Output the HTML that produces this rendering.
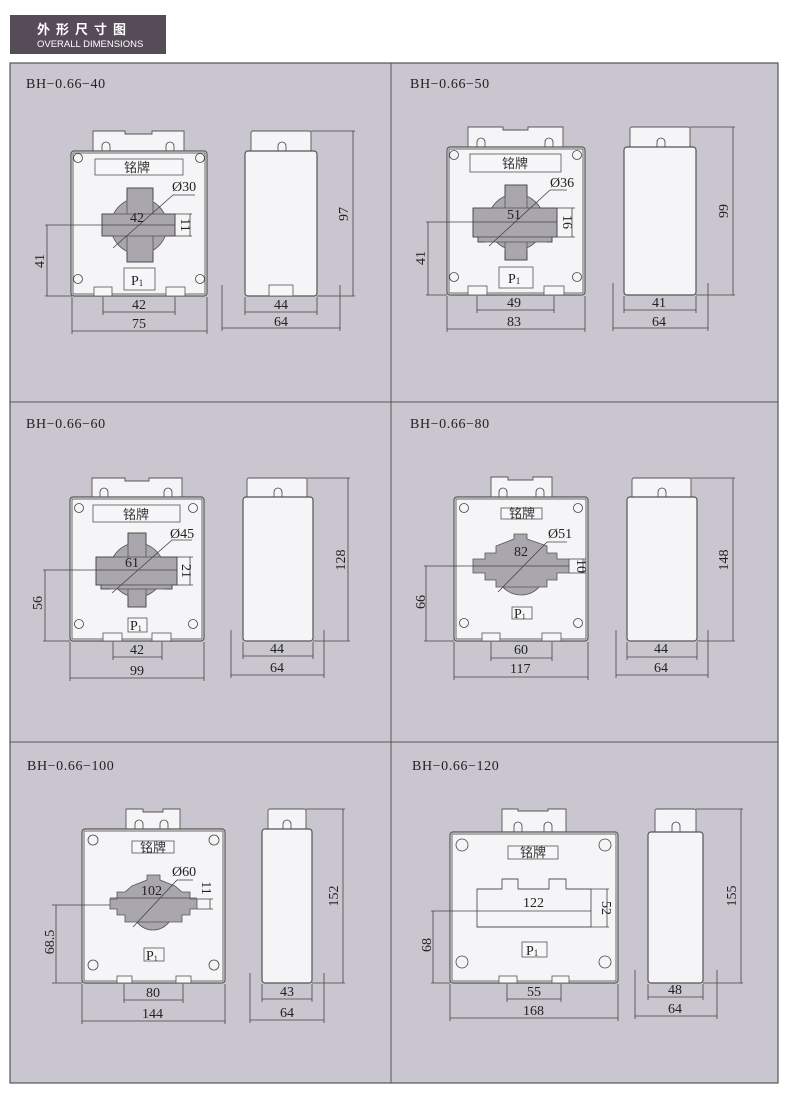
<!DOCTYPE html>
<html><head><meta charset="utf-8"><style>
body{margin:0;background:#fff;}
svg{display:block}
.t{font-family:"Liberation Serif","Noto Serif CJK SC",serif;font-size:14px;fill:#222}
.h{font-family:"Liberation Serif",serif;font-size:14px;fill:#222;letter-spacing:0.6px}
.c{font-family:"Liberation Sans","Noto Sans CJK SC",sans-serif;font-size:13px;fill:#333}
.b{fill:#f5f4f6;stroke:#555;stroke-width:1.2}
.w{fill:#a9a6ae;stroke:#555;stroke-width:0.8}
.l{stroke:#444;stroke-width:0.8;fill:none}
.p{fill:#f7f6f8;stroke:#555;stroke-width:0.8}
.o{fill:#f5f4f6;stroke:#555;stroke-width:0.9}
</style></head><body>
<svg width="790" height="1095" viewBox="0 0 790 1095" xmlns="http://www.w3.org/2000/svg">
<rect x="0" y="0" width="790" height="1095" fill="#fff"/>
<rect x="10" y="15" width="156" height="39" fill="#574b5a"/>
<text x="37" y="34" font-family="Liberation Sans,Noto Sans CJK SC,sans-serif" font-size="13" font-weight="bold" fill="#fff" letter-spacing="6">外形尺寸图</text>
<text x="37" y="47" font-family="Liberation Sans,sans-serif" font-size="9.5" fill="#fff">OVERALL DIMENSIONS</text>
<rect x="10" y="63" width="768" height="1020" fill="#c9c6cf" stroke="#555" stroke-width="1.2"/>
<line x1="391" y1="63" x2="391" y2="1083" stroke="#555" stroke-width="1"/>
<line x1="10" y1="402" x2="778" y2="402" stroke="#555" stroke-width="1"/>
<line x1="10" y1="742" x2="778" y2="742" stroke="#555" stroke-width="1"/>

<text class="h" x="26" y="88">BH−0.66−40</text>
<text class="h" x="410" y="88">BH−0.66−50</text>
<text class="h" x="26" y="428">BH−0.66−60</text>
<text class="h" x="410" y="428">BH−0.66−80</text>
<text class="h" x="27" y="770">BH−0.66−100</text>
<text class="h" x="412" y="770">BH−0.66−120</text>

<!-- ===== Cell 1 ===== -->
<polygon class="o" points="93,151 93,131 125,131 125,134 152,134 152,131 184,131 184,151"/>
<path class="l" d="M102,151V146a4,4 0 0 1 8,0V151 M166,151V146a4,4 0 0 1 8,0V151"/>
<rect class="b" x="71" y="151" width="136" height="145" rx="3"/>
<rect class="l" x="73" y="153" width="132" height="141"/>
<rect class="p" x="95" y="159" width="88" height="16"/>
<text class="c" x="124" y="172">铭牌</text>
<circle class="l" cx="78" cy="158" r="4.5"/><circle class="l" cx="200" cy="158" r="4.5"/>
<circle class="l" cx="78" cy="279" r="4.5"/><circle class="l" cx="200" cy="279" r="4.5"/>
<circle class="w" cx="139" cy="226" r="28"/>
<rect class="w" x="127" y="188" width="26" height="74" stroke="none"/>
<rect class="w" x="102" y="214" width="73" height="22" stroke="none"/>
<path class="l" d="M127,200V188H153V200 M127,252V262H153V252 M113,214H102V236H113 M165,214H175V236H165"/>
<rect class="p" x="124" y="268" width="31" height="22"/>
<text class="t" x="131" y="285">P<tspan font-size="9" dy="1">1</tspan></text>
<rect class="p" x="94" y="287" width="18" height="9"/><rect class="p" x="166" y="287" width="19" height="9"/>
<path class="l" d="M45,225H175 M47,225V296 M45,296H72 M113,248L173,195H195 M175,214H192 M175,236H192 M190,214V236"/>
<text class="t" x="130" y="222">42</text>
<text class="t" x="172" y="191">Ø30</text>
<text class="t" transform="translate(181,225) rotate(90)" text-anchor="middle">11</text>
<text class="t" transform="translate(44,261) rotate(-90)" text-anchor="middle">41</text>
<path class="l" d="M103,297V315 M175,297V315 M103,312H175 M72,297V334 M207,297V334 M72,331H207"/>
<text class="t" x="132" y="309">42</text><text class="t" x="132" y="328">75</text>
<rect class="o" x="251" y="131" width="60" height="22" rx="2"/>
<path class="l" d="M278,151V146a4,4 0 0 1 8,0V151"/>
<rect class="b" x="245" y="151" width="72" height="145" rx="3"/>
<rect class="p" x="269" y="285" width="24" height="11"/>
<path class="l" d="M311,131H355 M317,296H355 M353,131V296 M245,297V315 M317,297V315 M245,312H317 M222,285V331 M340,285V331 M222,328H340"/>
<text class="t" transform="translate(348,214) rotate(-90)" text-anchor="middle">97</text>
<text class="t" x="274" y="309">44</text><text class="t" x="274" y="326">64</text>

<!-- ===== Cell 2 ===== -->
<polygon class="o" points="468,147 468,127 503,127 503,130 528,130 528,127 563,127 563,147"/>
<path class="l" d="M477,147V142a4,4 0 0 1 8,0V147 M545,147V142a4,4 0 0 1 8,0V147"/>
<rect class="b" x="447" y="147" width="138" height="148" rx="3"/>
<rect class="l" x="449" y="149" width="134" height="144"/>
<rect class="p" x="470" y="154" width="91" height="18"/>
<text class="c" x="502" y="168">铭牌</text>
<circle class="l" cx="454" cy="155" r="4.5"/><circle class="l" cx="577" cy="155" r="4.5"/>
<circle class="l" cx="454" cy="277" r="4.5"/><circle class="l" cx="577" cy="277" r="4.5"/>
<circle class="w" cx="516" cy="222" r="28"/>
<rect class="w" x="505" y="185" width="22" height="75" stroke="none"/>
<rect class="w" x="473" y="208" width="84" height="29" stroke="none"/>
<rect class="w" x="478" y="237" width="74" height="5" stroke="none"/>
<path class="l" d="M505,196V185H527V196 M505,249V260H527V249 M493,208H473V237H478V242H485 M539,208H557V237H552V242H547"/>
<rect class="p" x="499" y="267" width="34" height="21"/>
<text class="t" x="508" y="283">P<tspan font-size="9" dy="1">1</tspan></text>
<rect class="p" x="468" y="286" width="19" height="9"/><rect class="p" x="544" y="286" width="20" height="9"/>
<path class="l" d="M426,222H557 M428,222V295 M426,295H447 M489,246L550,190H567 M557,208H575 M557,237H575 M572,208V237"/>
<text class="t" x="507" y="219">51</text>
<text class="t" x="550" y="187">Ø36</text>
<text class="t" transform="translate(563,222) rotate(90)" text-anchor="middle">16</text>
<text class="t" transform="translate(425,258) rotate(-90)" text-anchor="middle">41</text>
<path class="l" d="M477,296V313 M554,296V313 M477,310H554 M447,296V332 M585,296V332 M447,329H585"/>
<text class="t" x="507" y="307">49</text><text class="t" x="507" y="326">83</text>
<rect class="o" x="630" y="127" width="60" height="22" rx="2"/>
<path class="l" d="M657,147V142a4,4 0 0 1 8,0V147"/>
<rect class="b" x="624" y="147" width="72" height="148" rx="3"/>
<path class="l" d="M690,127H735 M696,295H735 M733,127V295 M624,296V313 M696,296V313 M624,310H696 M613,283V331 M708,283V331 M613,328H708"/>
<text class="t" transform="translate(728,211) rotate(-90)" text-anchor="middle">99</text>
<text class="t" x="652" y="307">41</text><text class="t" x="652" y="326">64</text>

<!-- ===== Cell 3 ===== -->
<polygon class="o" points="92,497 92,478 125,478 125,481 149,481 149,478 182,478 182,497"/>
<path class="l" d="M100,497V492a4,4 0 0 1 8,0V497 M164,497V492a4,4 0 0 1 8,0V497"/>
<rect class="b" x="70" y="497" width="134" height="144" rx="3"/>
<rect class="l" x="72" y="499" width="130" height="140"/>
<rect class="p" x="93" y="505" width="87" height="17"/>
<text class="c" x="123" y="519">铭牌</text>
<circle class="l" cx="79" cy="508" r="4.5"/><circle class="l" cx="193" cy="508" r="4.5"/>
<circle class="l" cx="79" cy="624" r="4.5"/><circle class="l" cx="193" cy="624" r="4.5"/>
<circle class="w" cx="137" cy="570" r="27"/>
<rect class="w" x="128" y="533" width="18" height="74" stroke="none"/>
<rect class="w" x="96" y="557" width="81" height="28" stroke="none"/>
<rect class="w" x="101" y="585" width="71" height="4" stroke="none"/>
<path class="l" d="M128,545V533H146V545 M128,596V607H146V596 M115,557H96V585H101V589H110 M160,557H177V585H172V589H164"/>
<rect class="p" x="128" y="618" width="19" height="14"/>
<text class="t" x="130" y="630" font-size="13">P<tspan font-size="8" dy="1">1</tspan></text>
<rect class="p" x="103" y="633" width="19" height="8"/><rect class="p" x="152" y="633" width="19" height="8"/>
<path class="l" d="M43,570H177 M45,570V641 M43,641H70 M112,593L172,540H192 M177,557H193 M177,585H193 M190,557V585"/>
<text class="t" x="125" y="567">61</text>
<text class="t" x="170" y="538">Ø45</text>
<text class="t" transform="translate(182,571) rotate(90)" text-anchor="middle">21</text>
<text class="t" transform="translate(42,603) rotate(-90)" text-anchor="middle">56</text>
<path class="l" d="M113,642V660 M162,642V660 M113,657H162 M70,642V681 M204,642V681 M70,678H204"/>
<text class="t" x="130" y="654">42</text><text class="t" x="130" y="675">99</text>
<rect class="o" x="247" y="478" width="60" height="21" rx="2"/>
<path class="l" d="M274,497V492a4,4 0 0 1 8,0V497"/>
<rect class="b" x="243" y="497" width="70" height="144" rx="3"/>
<path class="l" d="M307,478H350 M313,641H350 M348,478V641 M243,642V659 M313,642V659 M243,656H313 M231,630V678 M324,630V678 M231,675H324"/>
<text class="t" transform="translate(345,560) rotate(-90)" text-anchor="middle">128</text>
<text class="t" x="270" y="653">44</text><text class="t" x="270" y="672">64</text>

<!-- ===== Cell 4 ===== -->
<polygon class="o" points="491,497 491,477 508,477 508,480 533,480 533,477 552,477 552,497"/>
<path class="l" d="M499,497V492a4,4 0 0 1 8,0V497 M536,497V492a4,4 0 0 1 8,0V497"/>
<rect class="b" x="454" y="497" width="134" height="144" rx="3"/>
<rect class="l" x="456" y="499" width="130" height="140"/>
<rect class="p" x="501" y="508" width="41" height="11"/>
<text class="c" x="509" y="518" font-size="11">铭牌</text>
<circle class="l" cx="464" cy="508" r="4.5"/><circle class="l" cx="578" cy="508" r="4.5"/>
<circle class="l" cx="464" cy="623" r="4.5"/><circle class="l" cx="578" cy="623" r="4.5"/>
<ellipse class="w" cx="521" cy="567" rx="26" ry="28"/>
<polygon class="w" points="514,539 514,534 527,534 527,539 547,546 547,553 557,553 557,559 569,559 569,573 557,573 557,580 547,580 547,587 496,587 496,580 485,580 485,573 473,573 473,559 485,559 485,553 496,553 496,546"/>
<rect class="p" x="512" y="607" width="20" height="12"/>
<text class="t" x="514" y="618" font-size="12">P<tspan font-size="8" dy="1">1</tspan></text>
<rect class="p" x="482" y="633" width="18" height="8"/><rect class="p" x="542" y="633" width="19" height="8"/>
<path class="l" d="M424,566H569 M426,566V641 M424,641H454 M498,592L547,542H567 M569,559H586 M569,573H586 M583,559V573"/>
<text class="t" x="514" y="556">82</text>
<text class="t" x="548" y="538">Ø51</text>
<text class="t" transform="translate(577,566) rotate(90)" text-anchor="middle" font-size="12">10</text>
<text class="t" transform="translate(425,602) rotate(-90)" text-anchor="middle">66</text>
<path class="l" d="M491,642V661 M552,642V661 M491,658H552 M454,642V680 M588,642V680 M454,677H588"/>
<text class="t" x="514" y="654">60</text><text class="t" x="510" y="673">117</text>
<rect class="o" x="632" y="478" width="59" height="21" rx="2"/>
<path class="l" d="M658,497V492a4,4 0 0 1 8,0V497"/>
<rect class="b" x="627" y="497" width="70" height="144" rx="3"/>
<path class="l" d="M691,478H735 M697,641H735 M733,478V641 M627,642V660 M697,642V660 M627,657H697 M616,630V678 M708,630V678 M616,675H708"/>
<text class="t" transform="translate(728,560) rotate(-90)" text-anchor="middle">148</text>
<text class="t" x="654" y="653">44</text><text class="t" x="654" y="672">64</text>

<!-- ===== Cell 5 ===== -->
<polygon class="o" points="126,829 126,809 143,809 143,812 163,812 163,809 180,809 180,829"/>
<path class="l" d="M135,829V824a4,4 0 0 1 8,0V829 M160,829V824a4,4 0 0 1 8,0V829"/>
<rect class="b" x="82" y="829" width="143" height="154" rx="3"/>
<rect class="l" x="84" y="831" width="139" height="150"/>
<rect class="p" x="132" y="841" width="42" height="12"/>
<text class="c" x="140" y="852" font-size="12">铭牌</text>
<circle class="l" cx="93" cy="840" r="5"/><circle class="l" cx="214" cy="840" r="5"/>
<circle class="l" cx="93" cy="965" r="5"/><circle class="l" cx="214" cy="965" r="5"/>
<ellipse class="w" cx="153" cy="905" rx="22" ry="25"/>
<polygon class="w" points="147,880 147,875 160,875 160,880 175,886 182,892 190,892 190,899 197,899 197,909 190,909 190,915 182,915 182,922 125,922 125,915 117,915 117,909 110,909 110,899 117,899 117,892 125,892 132,886"/>
<rect class="p" x="144" y="948" width="20" height="13"/>
<text class="t" x="146" y="960" font-size="12">P<tspan font-size="8" dy="1">1</tspan></text>
<rect class="p" x="117" y="976" width="15" height="7"/><rect class="p" x="176" y="976" width="15" height="7"/>
<path class="l" d="M110,898H197 M52,905H110 M56,905V983 M52,983H82 M133,927L177,880H193 M197,899H213 M197,909H213 M210,899V909"/>
<text class="t" x="141" y="895">102</text>
<text class="t" x="172" y="876">Ø60</text>
<text class="t" transform="translate(202,888) rotate(90)" text-anchor="middle" font-size="12">11</text>
<text class="t" transform="translate(54,942) rotate(-90)" text-anchor="middle">68.5</text>
<path class="l" d="M124,984V1003 M183,984V1003 M124,1000H183 M82,984V1024 M225,984V1024 M82,1021H225"/>
<text class="t" x="146" y="997">80</text><text class="t" x="142" y="1018">144</text>
<rect class="o" x="268" y="809" width="38" height="22" rx="2"/>
<path class="l" d="M283,829V824a4,4 0 0 1 8,0V829"/>
<rect class="b" x="262" y="829" width="50" height="154" rx="3"/>
<path class="l" d="M306,809H345 M312,983H345 M343,809V983 M262,984V1002 M312,984V1002 M262,999H312 M250,973V1023 M324,973V1023 M250,1020H324"/>
<text class="t" transform="translate(338,896) rotate(-90)" text-anchor="middle">152</text>
<text class="t" x="280" y="996">43</text><text class="t" x="280" y="1017">64</text>

<!-- ===== Cell 6 ===== -->
<polygon class="o" points="502,832 502,809 518,809 518,811 548,811 548,809 566,809 566,832"/>
<path class="l" d="M514,832V826a4,4 0 0 1 8,0V832 M544,832V826a4,4 0 0 1 8,0V832"/>
<rect class="b" x="450" y="832" width="168" height="151" rx="3"/>
<rect class="l" x="452" y="834" width="164" height="147"/>
<rect class="p" x="508" y="846" width="50" height="13"/>
<text class="c" x="520" y="857">铭牌</text>
<circle class="l" cx="462" cy="845" r="6"/><circle class="l" cx="605" cy="845" r="6"/>
<circle class="l" cx="462" cy="962" r="6"/><circle class="l" cx="605" cy="962" r="6"/>
<path class="o" d="M477,927V889H502V879H518V889H549V879H566V889H591V927Z"/>
<rect class="p" x="522" y="942" width="25" height="15"/>
<text class="t" x="526" y="955">P<tspan font-size="9" dy="1">1</tspan></text>
<rect class="p" x="499" y="976" width="18" height="7"/><rect class="p" x="552" y="976" width="17" height="7"/>
<path class="l" d="M431,911H591 M433,911V983 M431,983H450 M591,889H609 M591,927H609 M607,889V927"/>
<text class="t" x="523" y="907">122</text>
<text class="t" transform="translate(602,908) rotate(90)" text-anchor="middle">52</text>
<text class="t" transform="translate(431,945) rotate(-90)" text-anchor="middle">68</text>
<path class="l" d="M507,984V1002 M561,984V1002 M507,999H561 M450,984V1021 M618,984V1021 M450,1018H618"/>
<text class="t" x="527" y="996">55</text><text class="t" x="523" y="1015">168</text>
<rect class="o" x="655" y="809" width="41" height="25" rx="2"/>
<path class="l" d="M672,832V826a4,4 0 0 1 8,0V832"/>
<rect class="b" x="648" y="832" width="55" height="151" rx="3"/>
<path class="l" d="M696,809H743 M703,983H743 M741,809V983 M648,984V1000 M703,984V1000 M648,997H703 M635,970V1019 M717,970V1019 M635,1016H717"/>
<text class="t" transform="translate(736,896) rotate(-90)" text-anchor="middle">155</text>
<text class="t" x="668" y="994">48</text><text class="t" x="668" y="1013">64</text>
</svg>
</body></html>
